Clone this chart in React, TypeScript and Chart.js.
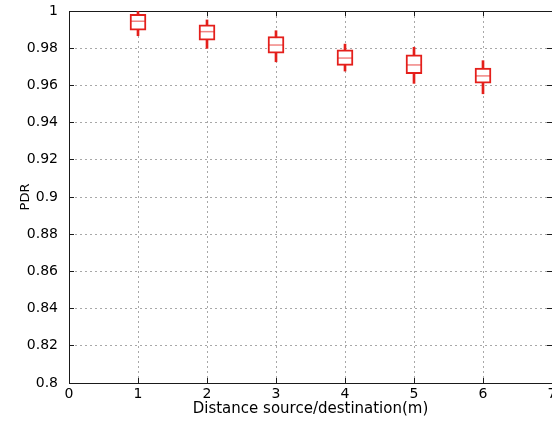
import { useEffect, useRef } from 'react';
import { Chart, registerables } from 'chart.js';

Chart.register(...registerables);

// Distance source/destination (m)
const distances = [1, 2, 3, 4, 5, 6];
// Box plot statistics of PDR per distance
const whiskerLow = [0.9867, 0.9799, 0.9727, 0.9677, 0.9611, 0.9555];
const boxLow = [0.9897, 0.9843, 0.9773, 0.9708, 0.9663, 0.9612];
const medians = [0.9945, 0.9889, 0.9817, 0.9747, 0.971, 0.9651];
const boxHigh = [0.9982, 0.9926, 0.9863, 0.9791, 0.9765, 0.9693];
const whiskerHigh = [0.9998, 0.9952, 0.9894, 0.9822, 0.9805, 0.9733];

const xMin = 0;
const xMax = 7;
const xStep = 1;
const yMin = 0.8;
const yMax = 1;
const yStep = 0.02;

const xTitle = 'Distance source/destination(m)';
const yTitle = 'PDR';

const RED = '#e41f1b';
const GRID = '#a8a8a8';
const AXIS = '#1a1a1a';
const FONT = 'DejaVu Sans';

export default function App() {
  const ref = useRef<HTMLCanvasElement>(null);

  useEffect(() => {
    document.body.style.margin = '0';
    const canvas = ref.current;
    if (!canvas) return;

    const fmt = (v: any) => String(Number(Number(v).toFixed(2)));

    const chart = new Chart(canvas, {
      type: 'bar',
      data: {
        datasets: [
          {
            type: 'line',
            label: 'median',
            data: distances.map((x, i) => ({ x, y: medians[i] })),
            showLine: false,
            pointStyle: 'line',
            pointRadius: 7,
            pointBorderWidth: 1.5,
            pointBorderColor: 'rgba(228,31,27,0.55)',
            pointBackgroundColor: 'rgba(228,31,27,0.55)',
            xAxisID: 'x',
            yAxisID: 'y',
            order: 0,
          } as any,
          {
            type: 'bar',
            label: 'box',
            data: distances.map((x, i) => ({ x, y: [boxLow[i], boxHigh[i]] })),
            backgroundColor: '#ffffff',
            borderColor: RED,
            borderWidth: 2,
            borderSkipped: false,
            barThickness: 16,
            grouped: false,
            xAxisID: 'x',
            yAxisID: 'y',
            order: 1,
          } as any,
          {
            type: 'bar',
            label: 'whisker',
            data: distances.map((x, i) => ({ x, y: [whiskerLow[i], whiskerHigh[i]] })),
            backgroundColor: RED,
            borderWidth: 0,
            barThickness: 2,
            grouped: false,
            xAxisID: 'x',
            yAxisID: 'y',
            order: 2,
          } as any,
        ],
      },
      options: {
        responsive: false,
        animation: false,
        events: [],
        layout: { padding: { left: 0, right: 20, top: 11, bottom: 0 } },
        plugins: {
          legend: { display: false },
          tooltip: { enabled: false },
        },
        scales: {
          x: {
            type: 'linear',
            position: 'bottom',
            min: xMin,
            max: xMax,
            offset: false,
            afterFit: (s: any) => {
              s.height = 38;
            },
            grid: {
              offset: false,
              color: GRID,
              lineWidth: 1,
              drawTicks: true,
              tickLength: -5,
              tickColor: AXIS,
              tickWidth: 1,
            },
            border: { display: true, color: AXIS, width: 1, dash: [2, 3] },
            ticks: {
              stepSize: xStep,
              padding: 8,
              color: '#000',
              font: { family: FONT, size: 14 },
              maxRotation: 0,
              autoSkip: false,
              callback: (v: any) => fmt(v),
            },
            title: {
              display: true,
              text: xTitle,
              color: '#000',
              font: { family: FONT, size: 15 },
              padding: { top: 0, bottom: 3 },
            },
          },
          x2: {
            type: 'linear',
            position: 'top',
            min: xMin,
            max: xMax,
            offset: false,
            afterFit: (s: any) => {
              s.height = 0;
              s.paddingTop = 0;
              s.paddingBottom = 0;
            },
            grid: {
              offset: false,
              drawOnChartArea: false,
              drawTicks: true,
              tickLength: -5,
              tickColor: AXIS,
              tickWidth: 1,
            },
            border: { display: true, color: AXIS, width: 1 },
            ticks: { stepSize: xStep, display: false },
          },
          y: {
            type: 'linear',
            position: 'left',
            min: yMin,
            max: yMax,
            afterFit: (s: any) => {
              s.width = 69;
              s.paddingTop = 0;
              s.paddingBottom = 0;
            },
            grid: {
              color: GRID,
              lineWidth: 1,
              drawTicks: true,
              tickLength: -5,
              tickColor: AXIS,
              tickWidth: 1,
            },
            border: { display: true, color: AXIS, width: 1, dash: [2, 3] },
            ticks: {
              stepSize: yStep,
              padding: 16,
              color: '#000',
              font: { family: FONT, size: 14 },
              autoSkip: false,
              callback: (v: any) => fmt(v),
            },
            title: {
              display: true,
              text: yTitle,
              color: '#000',
              font: { family: FONT, size: 13 },
              padding: { top: 18, bottom: 0 },
            },
          },
          y2: {
            type: 'linear',
            position: 'right',
            min: yMin,
            max: yMax,
            afterFit: (s: any) => {
              s.width = 0;
              s.paddingTop = 0;
              s.paddingBottom = 0;
            },
            grid: {
              drawOnChartArea: false,
              drawTicks: true,
              tickLength: -5,
              tickColor: AXIS,
              tickWidth: 1,
            },
            border: { display: false },
            ticks: { stepSize: yStep, display: false },
          },
        },
      } as any,
    });

    return () => chart.destroy();
  }, []);

  return (
    <div style={{ width: 552, height: 421, overflow: 'hidden', position: 'relative', background: '#fff' }}>
      <canvas ref={ref} width={572} height={421} style={{ display: 'block', width: 572, height: 421 }} />
    </div>
  );
}
